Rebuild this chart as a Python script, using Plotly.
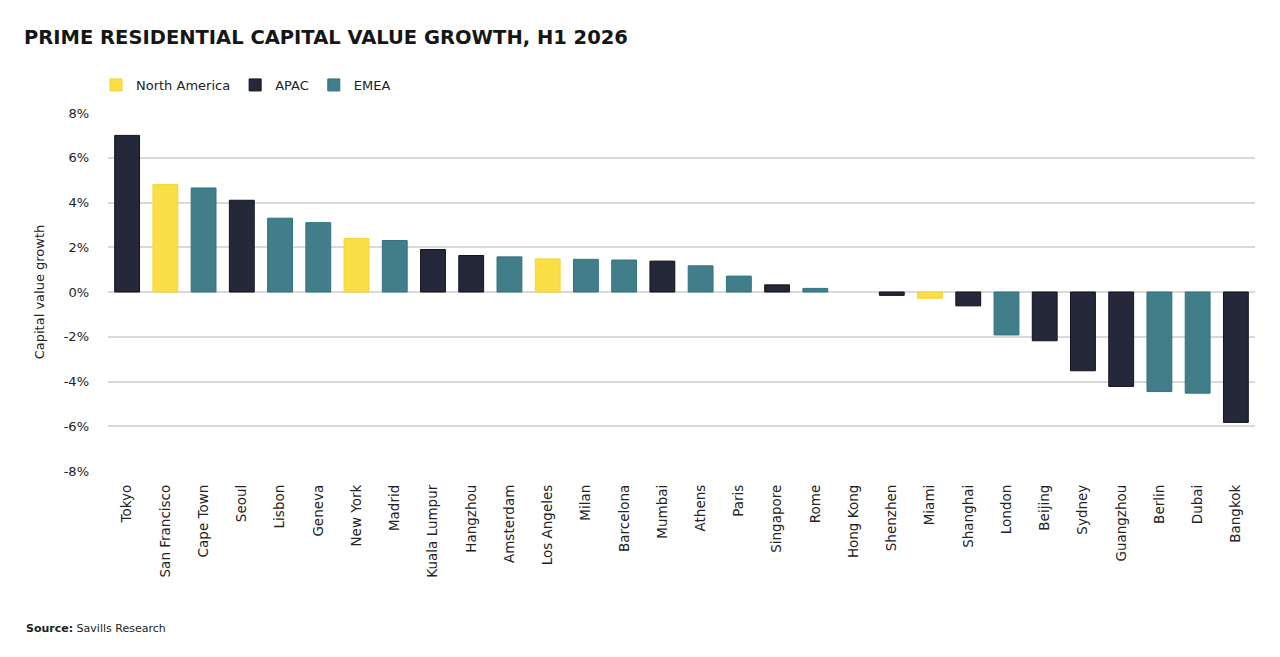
import plotly.graph_objects as go

cities = ["Tokyo", "San Francisco", "Cape Town", "Seoul", "Lisbon", "Geneva", "New York",
          "Madrid", "Kuala Lumpur", "Hangzhou", "Amsterdam", "Los Angeles", "Milan",
          "Barcelona", "Mumbai", "Athens", "Paris", "Singapore", "Rome", "Hong Kong",
          "Shenzhen", "Miami", "Shanghai", "London", "Beijing", "Sydney", "Guangzhou",
          "Berlin", "Dubai", "Bangkok"]
growth = [7.0, 4.8, 4.65, 4.1, 3.3, 3.1, 2.4,
          2.3, 1.9, 1.63, 1.57, 1.48, 1.46,
          1.43, 1.38, 1.17, 0.71, 0.32, 0.16, 0.0,
          -0.15, -0.28, -0.62, -1.92, -2.18, -3.52, -4.22,
          -4.45, -4.52, -5.83]
regions = ["APAC", "North America", "EMEA", "APAC", "EMEA", "EMEA", "North America",
           "EMEA", "APAC", "APAC", "EMEA", "North America", "EMEA",
           "EMEA", "APAC", "EMEA", "EMEA", "APAC", "EMEA", "APAC",
           "APAC", "North America", "APAC", "EMEA", "APAC", "APAC", "APAC",
           "EMEA", "EMEA", "APAC"]
y_ticks = [-8, -6, -4, -2, 0, 2, 4, 6, 8]
y_tick_labels = ["-8%", "-6%", "-4%", "-2%", "0%", "2%", "4%", "6%", "8%"]

region_order = ["North America", "APAC", "EMEA"]
fill = {"North America": "#F9DE46", "APAC": "#252838", "EMEA": "#417E8A"}
edge = {"North America": "#F3D53A", "APAC": "#111320", "EMEA": "#2F7482"}

FONT = "DejaVu Sans"

# page has an 8px body margin, so the figure is drawn 8px smaller and offset
W, H = 1264, 641
L, R, T, B = 100, 17, 105, 178
PW, PH = W - L - R, H - T - B

fig = go.Figure()
for r in region_order:
    xs = [c for c, g in zip(cities, regions) if g == r]
    ys = [v for v, g in zip(growth, regions) if g == r]
    fig.add_trace(go.Bar(
        x=xs, y=ys, name=r,
        marker=dict(color=fill[r],
                    line=dict(color=edge[r], width=[0 if v == 0 else 1 for v in ys])),
        hovertemplate="%{x}: %{y:.1f}%<extra></extra>",
    ))

fig.update_layout(
    width=W, height=H,
    paper_bgcolor="white", plot_bgcolor="white",
    font=dict(family=FONT, color="#222222", size=13),
    barmode="relative", bargap=0.35,
    margin=dict(l=L, r=R, t=T, b=B),
    title=dict(text="PRIME RESIDENTIAL CAPITAL VALUE GROWTH, H1 2026",
               x=16 / W, xanchor="left", y=1 - 29 / H, yanchor="middle",
               font=dict(family=FONT, size=19.5, color="#161616", weight="bold")),
    legend=dict(orientation="h", x=-12 / PW, xanchor="left", y=1 + 28 / PH, yanchor="middle",
                font=dict(size=13, color="#222222"), traceorder="normal"),
    showlegend=True,
)

fig.update_xaxes(categoryorder="array", categoryarray=cities, tickangle=-90,
                 showgrid=False, showline=False, ticks="", ticklabelstandoff=10,
                 tickfont=dict(size=13.5, color="#222222"))
fig.update_yaxes(range=[-8, 8], tickvals=y_ticks, ticktext=y_tick_labels,
                 showgrid=True, gridcolor="#D9D9D9", gridwidth=1.5,
                 zeroline=True, zerolinecolor="#D9D9D9", zerolinewidth=1.5,
                 ticks="", ticklen=0, ticklabelstandoff=18,
                 tickfont=dict(size=13, color="#222222"),
                 title=dict(text="Capital value growth", standoff=16,
                            font=dict(size=13, color="#222222")))

fig.add_annotation(text="<b>Source:</b> Savills Research", xref="paper", yref="paper",
                   x=(16 - L) / PW, xanchor="left", y=-(620 - (H - B)) / PH, yanchor="middle",
                   showarrow=False, font=dict(size=11, color="#222222"))

fig.write_html("out.html")
